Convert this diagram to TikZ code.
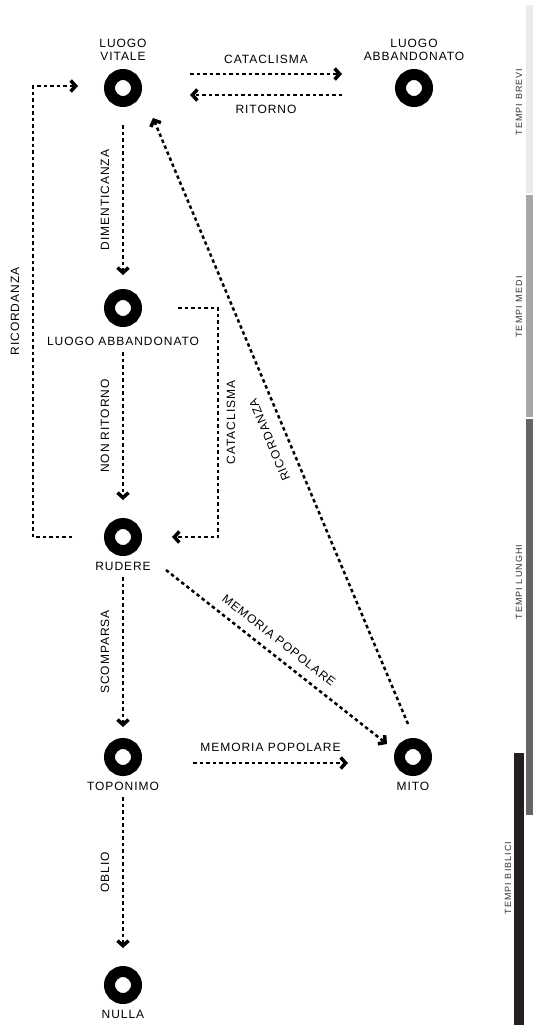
\documentclass[tikz,border=0pt]{standalone}
\usepackage{fontspec}
\setmainfont{Liberation Sans}[LetterSpace=8]
\newfontfamily\erafont{Liberation Sans}[LetterSpace=12]
\usepackage{tikz}
\usetikzlibrary{arrows.meta,positioning}
\definecolor{brevi}{HTML}{EBEBEB}
\definecolor{medi}{HTML}{A7A7A7}
\definecolor{lunghi}{HTML}{656565}
\definecolor{biblici}{HTML}{231F20}

\begin{document}
\begin{tikzpicture}[x=1pt,y=-1pt,node distance=220pt,
	station/.style={circle,draw,line width=11pt,minimum size=27pt,inner sep=0pt},
	flow/.style={line width=2.5pt,dash pattern=on 3.5pt off 3pt,
		-{Straight Barb[length=5pt,width=11pt,line width=3.5pt]}},
	every node/.style={font=\fontsize{12}{13}\selectfont},
	vleft/.style={rotate=90,anchor=south,outer sep=10.5pt},
	vright/.style={rotate=90,anchor=north,outer sep=5.5pt},
	era/.style={rotate=90,font=\erafont\fontsize{9}{10}\selectfont,text=black!80},
	label distance=3pt]
	\useasboundingbox (0,0) rectangle (533,1025);

	\fill[brevi] (526,5) rectangle (533,193);
	\fill[medi] (526,195) rectangle (533,417);
	\fill[lunghi] (526,419) rectangle (533,815);
	\fill[biblici] (514,753) rectangle (524,1025);
	\node[era] (brevi) at (519,102) {TEMPI BREVI};
	\node[era] (medi) at (519,307) {TEMPI MEDI};
	\node[era] (lunghi) at (519,582) {TEMPI LUNGHI};
	\node[era] (biblici) at (508,878) {TEMPI BIBLICI};

	\node[station,label={[align=center,label distance=5pt]above:LUOGO\\VITALE}] (vitale) at (123,88) {};
	\node[station,right of=vitale,node distance=291pt,
		label={[align=center,label distance=5pt]above:LUOGO\\ABBANDONATO}] (abbandonato) {};
	\node[station,below of=vitale,label={[label distance=7pt]below:LUOGO ABBANDONATO}] (abbandonato2) {};
	\node[station,below of=abbandonato2,node distance=229pt,label=below:RUDERE] (rudere) {};
	\node[station,below of=rudere,label=below:TOPONIMO] (toponimo) {};
	\node[station,right of=toponimo,node distance=290pt,label=below:MITO] (mito) {};
	\node[station,below of=toponimo,node distance=228pt,label=below:NULLA] (nulla) {};

	\path
	([shift={(67,-14)}]vitale.center) edge[flow] node[above=6pt]{CATACLISMA} ([shift={(-72,-14)}]abbandonato.center)
	([shift={(-72,7)}]abbandonato.center) edge[flow] node[below=6pt]{RITORNO} ([shift={(67,7)}]vitale.center)
	([shift={(0,37)}]vitale.center) edge[flow] node[vleft]{DIMENTICANZA} ([shift={(0,-33)}]abbandonato2.center)
	([shift={(0,44)}]abbandonato2.center) edge[flow] node[vleft]{NON RITORNO} ([shift={(0,-37)}]rudere.center)
	([shift={(0,40)}]rudere.center) edge[flow] node[vleft]{SCOMPARSA} ([shift={(0,-30)}]toponimo.center)
	([shift={(0,40)}]toponimo.center) edge[flow] node[vleft]{OBLIO} ([shift={(0,-37)}]nulla.center)
	([shift={(70,6)}]toponimo.center) edge[flow] node[above=7pt]{MEMORIA POPOLARE} ([shift={(-65,6)}]mito.center)
	([shift={(43,33)}]rudere.center) edge[flow] node[pos=.47,sloped,anchor=south,outer sep=7pt]{MEMORIA POPOLARE} ([shift={(-26,-13)}]mito.center)
	([shift={(-5,-33)}]mito.center) edge[flow] node[pos=.48,sloped,allow upside down,anchor=south,outer sep=10pt]{RICORDANZA} ([shift={(30,30)}]vitale.center);

	\draw[flow] ([shift={(55,0)}]abbandonato2.center) -- ++(40,0)
		|- node[pos=.25,vright]{CATACLISMA} ([shift={(49,0)}]rudere.center);
	\draw[flow] ([shift={(-51,0)}]rudere.center) -- ++(-39,0)
		|- node[pos=.25,vleft]{RICORDANZA} ([shift={(-45,-2)}]vitale.center);
\end{tikzpicture}
\end{document}
